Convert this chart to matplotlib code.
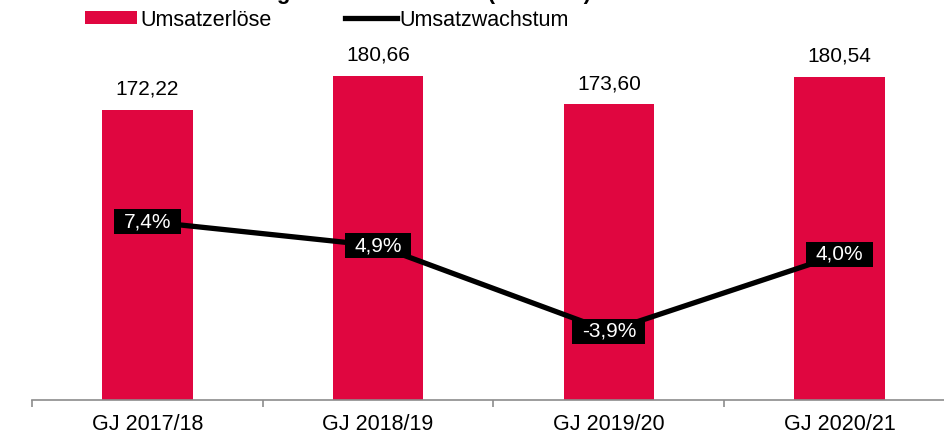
import numpy as np
import matplotlib
matplotlib.use("Agg")
import matplotlib.pyplot as plt
from matplotlib.path import Path

plt.rcParams["font.family"] = ["Liberation Sans", "DejaVu Sans"]

# data
years = ["GJ 2017/18", "GJ 2018/19", "GJ 2019/20", "GJ 2020/21"]
revenue = [172.22, 180.66, 173.60, 180.54]          # Mio. EUR
growth = [7.4, 4.9, -3.9, 4.0]                      # %
revenue_labels = ["172,22", "180,66", "173,60", "180,54"]
growth_labels = ["7,4%", "4,9%", "-3,9%", "4,0%"]

RED = "#E00640"
GRAY = "#8C8C8C"


def label_box(x0, y0, width, height, mutation_size):
    # wider left/right padding than top/bottom, like the Excel labels
    px = 0.45 * mutation_size
    py = 0.14 * mutation_size
    x0, x1 = x0 - px, x0 + width + px
    y0, y1 = y0 - py, y0 + height + py
    return Path([(x0, y0), (x1, y0), (x1, y1), (x0, y1), (x0, y0)], closed=True)


fig = plt.figure(figsize=(9.44, 4.34), dpi=100)
ax = fig.add_axes([32/944, 34/434, 923/944, 401.6/434])
x = np.arange(len(years))

bars = ax.bar(x, revenue, width=0.392, color=RED, zorder=2, label="Umsatzerlöse")
for xi, v, t in zip(x, revenue, revenue_labels):
    ax.annotate(t, (xi, v), xytext=(0, 8), textcoords="offset points",
                ha="center", va="bottom", fontsize=15)

ax.set_xlim(-0.5, 3.5)
ax.set_ylim(100, 200)
for s in ["top", "left", "right"]:
    ax.spines[s].set_visible(False)
ax.spines["bottom"].set_color(GRAY)
ax.spines["bottom"].set_linewidth(1.2)
ax.set_yticks([])
ax.set_xticks(np.arange(-0.5, 4.0, 1.0))
ax.set_xticklabels([])
ax.tick_params(axis="x", which="major", length=5, width=1.2, color=GRAY, direction="out")
ax.set_xticks(x, minor=True)
ax.set_xticklabels(years, minor=True, fontsize=15.5)
ax.tick_params(axis="x", which="minor", length=0, pad=10)

ax2 = ax.twinx()
ax2.set_ylim(-11, 30.4)
ax2.axis("off")
line, = ax2.plot(x, growth, color="black", lw=3.8, zorder=3, label="Umsatzwachstum")
for xi, v, t in zip(x, growth, growth_labels):
    ax2.text(xi, v, t, ha="center", va="center", fontsize=15, color="white", zorder=4,
             bbox=dict(boxstyle=label_box, facecolor="black", edgecolor="none"))

fig.legend(handles=[bars, line], loc="center left",
           bbox_to_anchor=(85/944, 1 - 20/434), bbox_transform=fig.transFigure,
           ncol=2, frameon=False, fontsize=15.5, handlelength=2.42, handleheight=0.56,
           handletextpad=0.14, columnspacing=3.4, borderpad=0, borderaxespad=0)

# title sits mostly above the visible area, as in the original export
fig.text(591/944, 1 + 1/434, "Entwicklung der Umsatzerlöse (in Mio. €)", ha="right",
         va="baseline", fontsize=16, fontweight="bold")

fig.savefig("out.png", dpi=100)
